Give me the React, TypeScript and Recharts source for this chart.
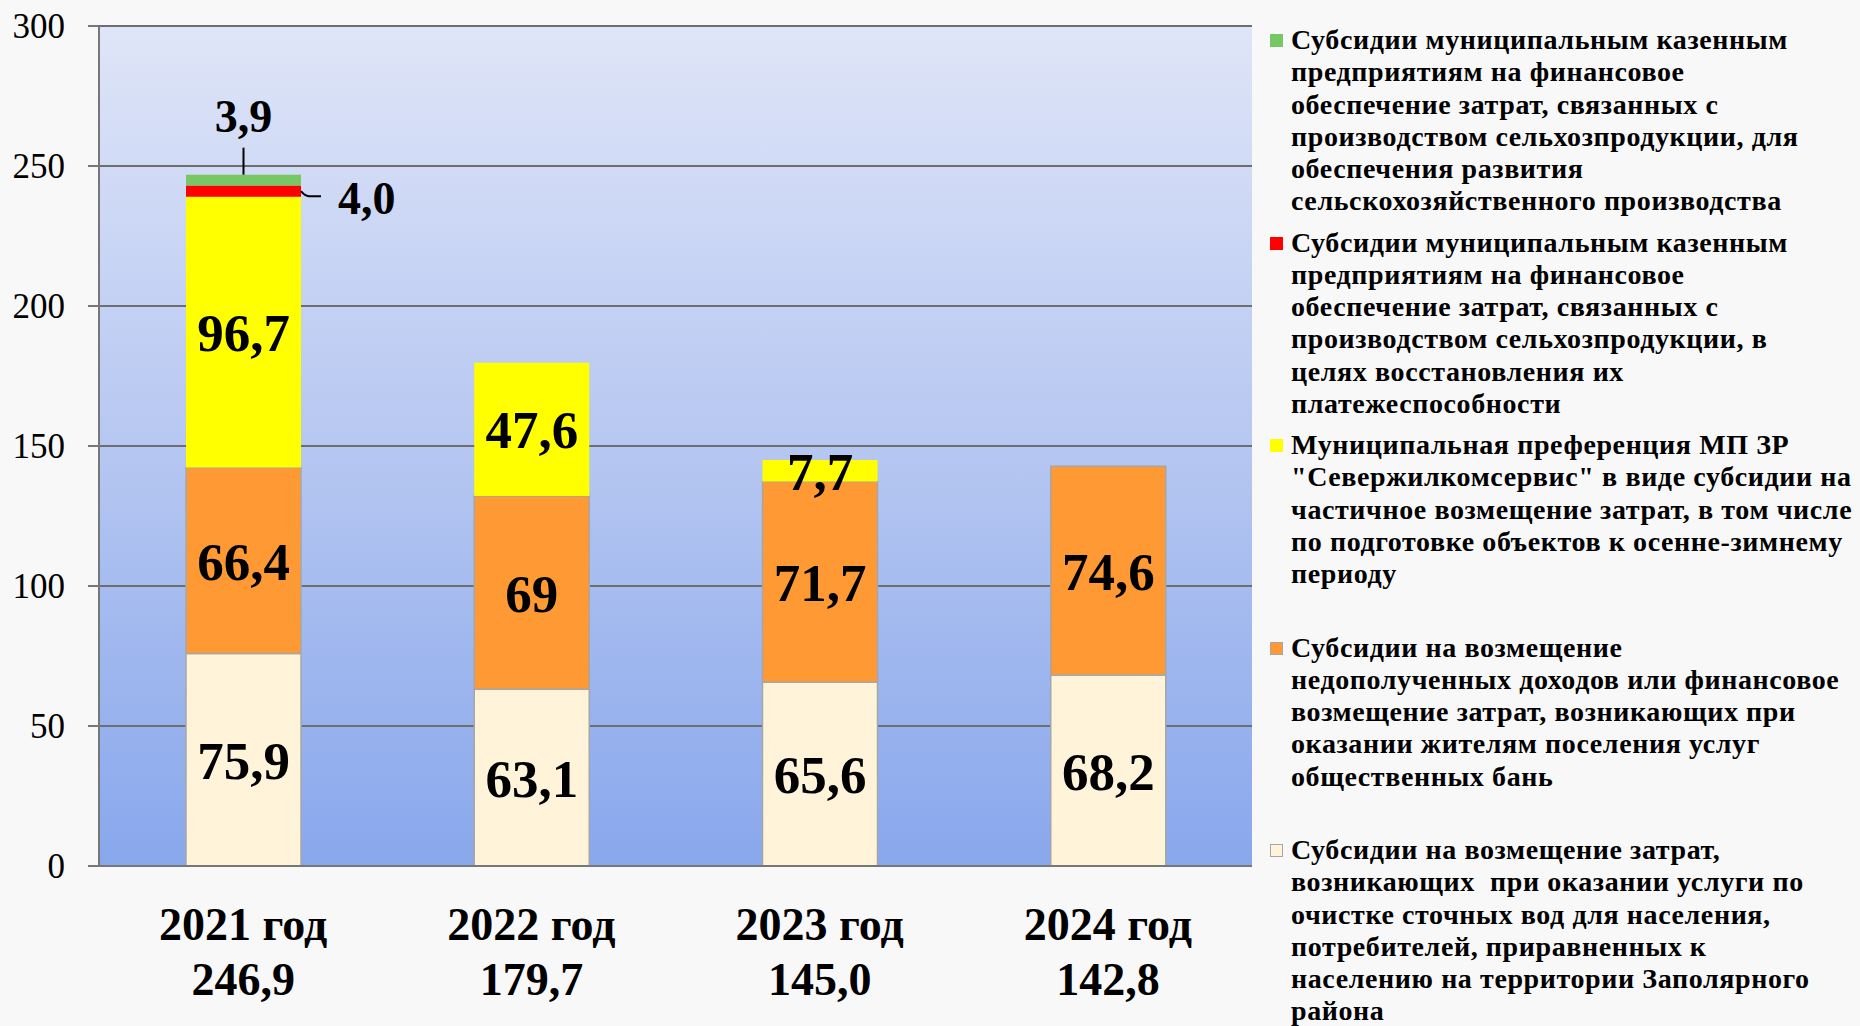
import { Bar, BarChart, CartesianGrid, LabelList, XAxis, YAxis } from "recharts";

const years = ["2021 год", "2022 год", "2023 год", "2024 год"];
const totals = ["246,9", "179,7", "145,0", "142,8"];

const sewage = [75.9, 63.1, 65.6, 68.2];
const baths = [66.4, 69, 71.7, 74.6];
const preference = [96.7, 47.6, 7.7, null];
const solvency = [4.0, null, null, null];
const farming = [3.9, null, null, null];

const yTicks = [0, 50, 100, 150, 200, 250, 300];
const edgeTicks = [0, 1, 2, 3, 4];

const farmingName =
  "Субсидии муниципальным казенным\nпредприятиям на финансовое\nобеспечение затрат, связанных с\nпроизводством сельхозпродукции, для\nобеспечения развития\nсельскохозяйственного производства";
const solvencyName =
  "Субсидии муниципальным казенным\nпредприятиям на финансовое\nобеспечение затрат, связанных с\nпроизводством сельхозпродукции, в\nцелях восстановления их\nплатежеспособности";
const preferenceName =
  "Муниципальная преференция МП ЗР\n\"Севержилкомсервис\" в виде субсидии на\nчастичное возмещение затрат, в том числе\nпо подготовке объектов к осенне-зимнему\nпериоду";
const bathsName =
  "Субсидии на возмещение\nнедополученных доходов или финансовое\nвозмещение затрат, возникающих при\nоказании жителям поселения услуг\nобщественных бань";
const sewageName =
  "Субсидии на возмещение затрат,\nвозникающих  при оказании услуги по\nочистке сточных вод для населения,\nпотребителей, приравненных к\nнаселению на территории Заполярного\nрайона";

const SERIF = "'Liberation Serif', 'Times New Roman', serif";

const data = years.map((year, i) => ({
  year,
  sewage: sewage[i],
  baths: baths[i],
  preference: preference[i],
  solvency: solvency[i],
  farming: farming[i],
}));

// top of the legend first, like the original
const legendItems = [
  { name: farmingName, color: "#77C865", border: "none" },
  { name: solvencyName, color: "#FF0000", border: "none" },
  { name: preferenceName, color: "#FFFF00", border: "none" },
  { name: bathsName, color: "#FF9933", border: "1px solid #A6A6A6" },
  { name: sewageName, color: "#FFF4DA", border: "1px solid #A6A6A6" },
];

const fmt = (v: number) => String(v).replace(".", ",");
const fmt1 = (v: number) => v.toFixed(1).replace(".", ",");

const boxOf = (p: any) => {
  const vb = p.viewBox ?? {};
  return {
    x: Number(vb.x ?? p.x),
    y: Number(vb.y ?? p.y),
    w: Number(vb.width ?? p.width),
    h: Number(vb.height ?? p.height),
  };
};

const SegLabel = (p: any) => {
  if (p.value == null || p.value === 0) return null;
  const { x, y, w, h } = boxOf(p);
  return (
    <text
      x={x + w / 2}
      y={y + h / 2 + 19}
      textAnchor="middle"
      fontFamily={SERIF}
      fontWeight="bold"
      fontSize={53}
      fill="#000"
    >
      {fmt(p.value)}
    </text>
  );
};

const FarmingLabel = (p: any) => {
  if (p.value == null) return null;
  const { x, y, w } = boxOf(p);
  const cx = x + w / 2;
  return (
    <g>
      <line x1={cx} y1={y} x2={cx} y2={y - 27} stroke="#000" strokeWidth={2} />
      <text x={cx} y={y - 43} textAnchor="middle" fontFamily={SERIF} fontWeight="bold" fontSize={46} fill="#000">
        {fmt1(p.value)}
      </text>
    </g>
  );
};

const SolvencyLabel = (p: any) => {
  if (p.value == null) return null;
  const { x, y, w, h } = boxOf(p);
  const right = x + w;
  const cy = y + h / 2;
  return (
    <g>
      <path
        d={`M${right},${cy} Q${right + 4},${cy + 5} ${right + 8},${cy + 5} L${right + 20},${cy + 5}`}
        stroke="#000"
        strokeWidth={2}
        fill="none"
      />
      <text x={right + 37} y={cy + 23} textAnchor="start" fontFamily={SERIF} fontWeight="bold" fontSize={46} fill="#000">
        {fmt1(p.value)}
      </text>
    </g>
  );
};

const YearTick = ({ x, y, payload, index }: any) => (
  <g fontFamily={SERIF} fontWeight="bold" fontSize={46} fill="#000">
    <text x={x} y={y + 74} textAnchor="middle">
      {payload.value}
    </text>
    <text x={x} y={y + 129} textAnchor="middle">
      {totals[index]}
    </text>
  </g>
);

const Legend = () => (
  <div
    style={{
      position: "absolute",
      left: 1270,
      top: 24,
      width: 590,
      fontFamily: SERIF,
      fontWeight: "bold",
      fontSize: 28,
      letterSpacing: "0.6px",
      lineHeight: "32.3px",
      color: "#000",
    }}
  >
    {legendItems.map((item) => (
      <div key={item.name} style={{ position: "relative", height: 202.5, paddingLeft: 21 }}>
        <span
          style={{
            position: "absolute",
            left: 0,
            top: 10,
            width: 13,
            height: 13,
            boxSizing: "border-box",
            background: item.color,
            border: item.border,
          }}
        />
        <div style={{ whiteSpace: "pre" }}>{item.name}</div>
      </div>
    ))}
  </div>
);

export default function App() {
  return (
    <div
      style={{
        position: "fixed",
        left: 0,
        top: 0,
        width: 1860,
        height: 1026,
        background: "#F8F8F8",
        overflow: "hidden",
      }}
    >
      <BarChart
        width={1860}
        height={1026}
        data={data}
        margin={{ top: 26, right: 608, bottom: 0, left: 0 }}
        barSize={115}
      >
        <defs>
          <linearGradient id="plotBg" x1="0" y1="0" x2="0" y2="1">
            <stop offset="0%" stopColor="#DFE5F8" />
            <stop offset="50%" stopColor="#B6C7F1" />
            <stop offset="100%" stopColor="#88A7EC" />
          </linearGradient>
        </defs>
        <CartesianGrid
          vertical={false}
          stroke="#6E6E6E"
          strokeWidth={2}
          fill="url(#plotBg)"
          fillOpacity={1}
        />
        <XAxis
          xAxisId="edge"
          type="number"
          domain={[0, 4]}
          ticks={edgeTicks}
          allowDataOverflow
          height={0}
          axisLine={false}
          tickSize={11}
          tickLine={{ stroke: "#777777", strokeWidth: 2 }}
          tick={() => <g />}
        />
        <XAxis
          dataKey="year"
          height={160}
          tickLine={false}
          tickSize={0}
          tickMargin={0}
          axisLine={{ stroke: "#777777", strokeWidth: 2 }}
          tick={<YearTick />}
          interval={0}
        />
        <YAxis
          width={99}
          domain={[0, 300]}
          ticks={yTicks}
          tickSize={11}
          tickMargin={23}
          axisLine={{ stroke: "#777777", strokeWidth: 2 }}
          tickLine={{ stroke: "#777777", strokeWidth: 2 }}
          tick={{ fontFamily: SERIF, fontSize: 35, fill: "#000" }}
        />
        <Bar dataKey="sewage" stackId="a" fill="#FFF4DA" stroke="#A6A6A6" strokeWidth={1.5} isAnimationActive={false}>
          <LabelList dataKey="sewage" content={<SegLabel />} />
        </Bar>
        <Bar dataKey="baths" stackId="a" fill="#FF9933" stroke="#A6A6A6" strokeWidth={1.5} isAnimationActive={false}>
          <LabelList dataKey="baths" content={<SegLabel />} />
        </Bar>
        <Bar dataKey="preference" stackId="a" fill="#FFFF00" isAnimationActive={false}>
          <LabelList dataKey="preference" content={<SegLabel />} />
        </Bar>
        <Bar dataKey="solvency" stackId="a" fill="#FF0000" isAnimationActive={false}>
          <LabelList dataKey="solvency" content={<SolvencyLabel />} />
        </Bar>
        <Bar dataKey="farming" stackId="a" fill="#77C865" isAnimationActive={false}>
          <LabelList dataKey="farming" content={<FarmingLabel />} />
        </Bar>
      </BarChart>
      <Legend />
    </div>
  );
}
